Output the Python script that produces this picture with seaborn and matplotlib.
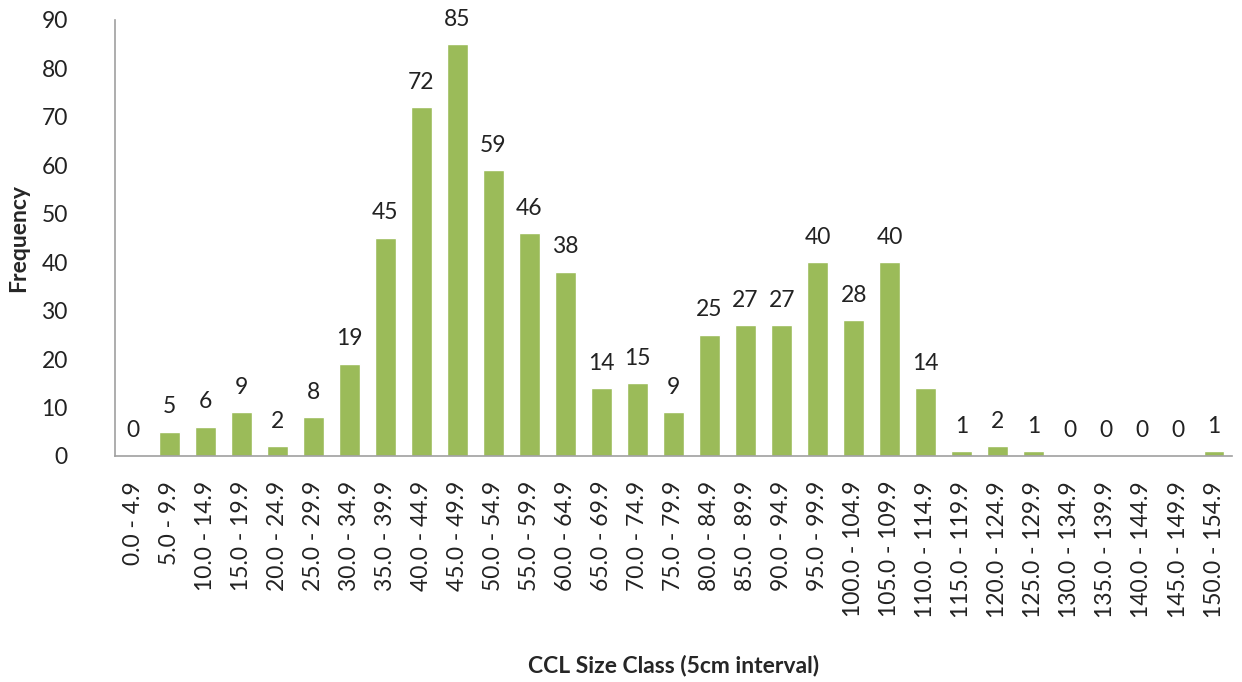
import matplotlib
matplotlib.use("Agg")
import matplotlib.pyplot as plt
import seaborn as sns
import pandas as pd

categories = ["0.0 - 4.9", "5.0 - 9.9", "10.0 - 14.9", "15.0 - 19.9", "20.0 - 24.9",
              "25.0 - 29.9", "30.0 - 34.9", "35.0 - 39.9", "40.0 - 44.9", "45.0 - 49.9",
              "50.0 - 54.9", "55.0 - 59.9", "60.0 - 64.9", "65.0 - 69.9", "70.0 - 74.9",
              "75.0 - 79.9", "80.0 - 84.9", "85.0 - 89.9", "90.0 - 94.9", "95.0 - 99.9",
              "100.0 - 104.9", "105.0 - 109.9", "110.0 - 114.9", "115.0 - 119.9",
              "120.0 - 124.9", "125.0 - 129.9", "130.0 - 134.9", "135.0 - 139.9",
              "140.0 - 144.9", "145.0 - 149.9", "150.0 - 154.9"]
frequency = [0, 5, 6, 9, 2, 8, 19, 45, 72, 85, 59, 46, 38, 14, 15, 9, 25, 27, 27, 40,
             28, 40, 14, 1, 2, 1, 0, 0, 0, 0, 1]
yticks = [0, 10, 20, 30, 40, 50, 60, 70, 80, 90]

sns.set_theme(style="white")
plt.rcParams['font.family'] = ['Lato', 'DejaVu Sans']

df = pd.DataFrame({"cls": categories, "freq": frequency})
fig = plt.figure(figsize=(12.42, 6.82), dpi=100)
ax = fig.add_axes([0.0926, 0.3314, 0.8994, 0.6393])
sns.barplot(data=df, x="cls", y="freq", color="#9BBB59", width=0.58, saturation=1, ax=ax)

for i, v in enumerate(frequency):
    ax.text(i, v + 3.0, str(v), ha="center", va="bottom", fontsize=16.5, color="#222222")

ax.set_ylim(0, 90)
ax.set_xlim(-0.5, len(categories) - 0.5)
ax.set_yticks(yticks)
ax.set_yticklabels([str(t) for t in yticks], fontsize=16.5, color="#222222")
ax.tick_params(axis="x", labelsize=16.5, labelcolor="#222222", rotation=90, length=0, pad=18)
ax.tick_params(axis="y", length=0, pad=34)
for s in ["top", "right"]:
    ax.spines[s].set_visible(False)
for s in ["left", "bottom"]:
    ax.spines[s].set_color("#A0A0A0")
    ax.spines[s].set_linewidth(1.2)
ax.set_xlabel("CCL Size Class (5cm interval)", fontsize=16.5, fontweight="bold")
ax.set_ylabel("Frequency", fontsize=16.5, fontweight="bold")
ax.xaxis.set_label_coords(0.5, -0.455)
ax.yaxis.set_label_coords(-0.077, 0.5)
fig.savefig("out.png", dpi=100)
